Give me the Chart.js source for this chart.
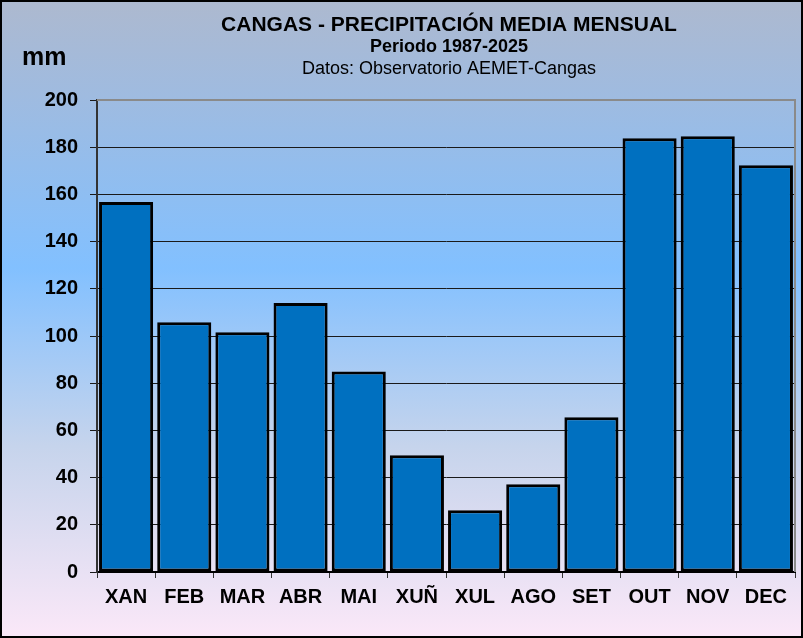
<!DOCTYPE html>
<html>
<head>
<meta charset="utf-8">
<script src="https://cdn.jsdelivr.net/npm/chart.js@4/dist/chart.umd.min.js"></script>
<style>
  html, body { margin: 0; padding: 0; background: #fff; }
  #wrap { width: 803px; height: 638px; }
</style>
</head>
<body>
<div id="wrap"><canvas id="chart" width="803" height="638"></canvas></div>
<script>
// months (galician) and mean monthly rain, mm
const months = ['XAN', 'FEB', 'MAR', 'ABR', 'MAI', 'XUÑ', 'XUL', 'AGO', 'SET', 'OUT', 'NOV', 'DEC'];
const rainMm = [156.8, 105.8, 101.6, 114.0, 85.0, 49.5, 26.2, 37.2, 65.6, 183.8, 184.6, 172.4];
const titleLines = ['CANGAS - PRECIPITACIÓN MEDIA MENSUAL', 'Periodo 1987-2025', 'Datos: Observatorio AEMET-Cangas'];
const unitLabel = 'mm';

const FONT = '"Liberation Sans", Arial, sans-serif';

// background gradient + outer frame
const backdrop = {
  id: 'backdrop',
  beforeDraw(chart) {
    const { ctx, width, height } = chart;
    ctx.save();
    const g = ctx.createLinearGradient(0, 0, 0, height);
    g.addColorStop(0, '#adb9cf');
    g.addColorStop(0.15, '#9fbbe0');
    g.addColorStop(0.42, '#82c0ff');
    g.addColorStop(0.7, '#c6d4ec');
    g.addColorStop(1, '#fbe8f8');
    ctx.fillStyle = g;
    ctx.fillRect(0, 0, width, height);
    ctx.strokeStyle = '#000';
    ctx.lineWidth = 2;
    ctx.strokeRect(1, 1, width - 2, height - 2);
    ctx.restore();
  },
  beforeDatasetsDraw(chart) {
    // grey frame on top and right of the plot area
    const { ctx, chartArea: a } = chart;
    ctx.save();
    ctx.strokeStyle = '#8a8a8a';
    ctx.lineWidth = 2;
    ctx.beginPath();
    ctx.moveTo(a.left, a.top);
    ctx.lineTo(a.right, a.top);
    ctx.lineTo(a.right, a.bottom);
    ctx.stroke();
    ctx.restore();
  },
  afterDraw(chart) {
    const { ctx, chartArea: a } = chart;
    const cx = (a.left + a.right) / 2;
    ctx.save();
    ctx.fillStyle = '#000';
    ctx.textAlign = 'center';
    ctx.textBaseline = 'middle';
    ctx.font = 'bold 21px ' + FONT;
    ctx.fillText(titleLines[0], cx + 3, 25);
    ctx.font = 'bold 18px ' + FONT;
    ctx.fillText(titleLines[1], cx + 3, 47);
    ctx.font = '18px ' + FONT;
    ctx.fillText(titleLines[2], cx + 3, 69);
    ctx.textAlign = 'left';
    ctx.font = 'bold 25px ' + FONT;
    ctx.fillText(unitLabel, 22, 58);
    ctx.restore();
  }
};

new Chart(document.getElementById('chart'), {
  type: 'bar',
  data: {
    labels: months,
    datasets: [{
      data: rainMm,
      backgroundColor: '#0070c0',
      borderColor: '#000',
      borderWidth: 3,
      borderSkipped: false,
      barPercentage: 0.93,
      categoryPercentage: 1
    }]
  },
  options: {
    responsive: false,
    animation: false,
    layout: { padding: { top: 100, right: 8, left: 0, bottom: 0 } },
    plugins: {
      legend: { display: false },
      title: { display: false },
      tooltip: { enabled: false }
    },
    scales: {
      x: {
        afterFit(scale) { scale.height = 66; },
        grid: { display: true, drawOnChartArea: false, drawTicks: true, tickLength: 6, color: '#333', offset: true },
        border: { color: '#000', width: 2 },
        ticks: { color: '#000', padding: 7, font: { family: FONT, size: 20, weight: 'bold' } }
      },
      y: {
        min: 0,
        max: 200,
        afterFit(scale) { scale.width = 97; },
        grid: { color: '#1a1a1a', lineWidth: 1, tickLength: 7, drawTicks: true },
        border: { color: '#333', width: 2 },
        ticks: { stepSize: 20, color: '#000', padding: 12, font: { family: FONT, size: 20, weight: 'bold' } }
      }
    }
  },
  plugins: [backdrop]
});
</script>
</body>
</html>
